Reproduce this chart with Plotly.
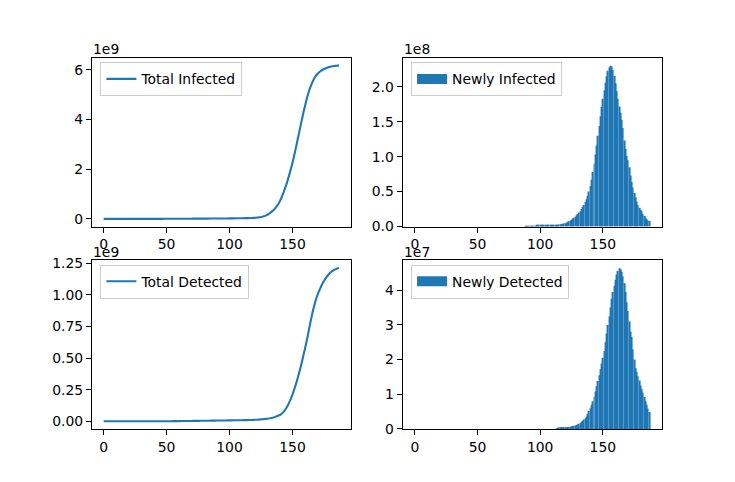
import plotly.graph_objects as go

# ---------------- data (values in millions of people) ----------------
days = list(range(188))

total_infected_m = [
    0.05, 0.05, 0.06, 0.06, 0.07, 0.07, 0.08, 0.08, 0.09, 0.1,
    0.11, 0.12, 0.13, 0.14, 0.15, 0.16, 0.17, 0.19, 0.2, 0.22,
    0.24, 0.26, 0.28, 0.3, 0.33, 0.36, 0.39, 0.42, 0.45, 0.49,
    0.53, 0.57, 0.62, 0.67, 0.72, 0.78, 0.84, 0.91, 0.98, 1.06,
    1.14, 1.23, 1.33, 1.43, 1.54, 1.66, 1.79, 1.93, 2.08, 2.24,
    2.41, 2.59, 2.79, 3.0, 3.23, 3.47, 3.73, 4.0, 4.3, 4.6,
    4.9, 5.2, 5.5, 5.8, 6.1, 6.4, 6.7, 7.0, 7.3, 7.6,
    7.9, 8.2, 8.5, 8.8, 9.1, 9.4, 9.7, 10.0, 10.3, 10.6,
    10.9, 11.2, 11.5, 11.8, 12.1, 12.4, 12.7, 13.0, 13.4, 13.8,
    14.2, 14.6, 15.0, 15.5, 16.0, 16.5, 17.0, 17.5, 18.0, 18.6,
    19.2, 19.8, 20.4, 21.1, 21.8, 22.5, 23.2, 24.0, 24.8, 25.6,
    26.5, 27.5, 28.5, 29.5, 30.5, 31.7, 33, 34.5, 36.5, 38.5,
    41, 46, 52, 59, 67, 77, 89, 103, 120, 140,
    165, 195, 230, 270, 310, 360, 410, 470, 540, 620,
    710, 820, 950, 1080, 1220, 1360, 1520, 1690, 1870, 2060,
    2260, 2470, 2690, 2920, 3160, 3400, 3640, 3880, 4110, 4340,
    4550, 4760, 4950, 5120, 5270, 5400, 5520, 5620, 5710, 5780,
    5840, 5890, 5930, 5970, 6000, 6030, 6050, 6070, 6090, 6105,
    6120, 6130, 6140, 6150, 6155, 6160, 6165, 6170,
]

newly_infected_m = [
    0, 0, 0, 0, 0, 0, 0, 0, 0, 0,
    0, 0, 0, 0, 0, 0, 0, 0, 0, 0,
    0, 0, 0, 0, 0, 0, 0, 0, 0, 0,
    0, 0, 0, 0, 0, 0, 0, 0, 0, 0,
    0, 0, 0, 0, 0, 0, 0, 0, 0, 0,
    0, 0, 0, 0, 0, 0, 0, 0, 0, 0,
    0, 0, 0, 0, 0, 0, 0, 0, 0, 0,
    0, 0, 0, 0, 0, 0, 0, 0, 0, 0,
    0, 0, 0, 0, 0, 0, 0, 0, 0.75, 0.8,
    0.82, 0.85, 0.88, 0.9, 0.93, 0.96, 1.0, 1.03, 1.06, 1.1,
    1.2, 1.25, 1.3, 1.35, 1.4, 1.45, 1.5, 1.6, 1.65, 1.7,
    1.8, 1.9, 2.0, 2.3, 2.6, 3.0, 3.3, 3.6, 4.0, 4.4,
    4.8, 5.5, 6.5, 7.5, 8.5, 9.5, 11, 12.5, 14, 16,
    18, 20, 22, 25, 28, 31, 35, 39, 44, 50,
    58, 67, 78, 90, 103, 116, 130, 144, 158, 171,
    183, 195, 206, 215, 223, 228, 230, 229, 224, 216,
    205, 194, 183, 172, 163, 153, 141, 123, 111, 101,
    95, 85, 73, 64, 56, 48, 42, 36, 31, 27,
    24, 22, 18, 15, 12.5, 10.5, 9, 8,
]

total_detected_m = [
    0.01, 0.01, 0.01, 0.01, 0.01, 0.02, 0.02, 0.02, 0.02, 0.02,
    0.03, 0.03, 0.03, 0.04, 0.04, 0.04, 0.05, 0.05, 0.06, 0.06,
    0.07, 0.07, 0.08, 0.09, 0.1, 0.11, 0.12, 0.13, 0.14, 0.15,
    0.16, 0.18, 0.19, 0.21, 0.23, 0.25, 0.27, 0.29, 0.31, 0.34,
    0.37, 0.4, 0.43, 0.47, 0.5, 0.54, 0.59, 0.64, 0.69, 0.74,
    0.8, 0.86, 0.93, 1.0, 1.08, 1.16, 1.25, 1.35, 1.45, 1.56,
    1.67, 1.78, 1.9, 2.02, 2.14, 2.27, 2.4, 2.53, 2.67, 2.81,
    2.95, 3.1, 3.25, 3.4, 3.55, 3.7, 3.85, 4.0, 4.15, 4.3,
    4.45, 4.6, 4.75, 4.9, 5.05, 5.2, 5.35, 5.5, 5.65, 5.8,
    5.95, 6.1, 6.25, 6.4, 6.55, 6.7, 6.85, 7.0, 7.15, 7.3,
    7.45, 7.6, 7.75, 7.9, 8.05, 8.2, 8.35, 8.5, 8.65, 8.8,
    8.95, 9.1, 9.25, 9.45, 9.65, 9.9, 10.2, 10.5, 10.9, 11.3,
    11.8, 12.3, 12.9, 13.6, 14.4, 15.2, 16.1, 17.1, 18.2, 19.4,
    20.8, 22.4, 24.2, 26.2, 28.5, 31, 34, 37.5, 41.5, 45.5,
    50, 57, 65, 76, 88, 103, 120, 140, 162, 186,
    212, 240, 270, 302, 336, 372, 410, 450, 492, 534,
    576, 622, 670, 720, 770, 818, 863, 905, 943, 975,
    1003, 1028, 1050, 1073, 1093, 1111, 1127, 1141, 1154, 1166,
    1176, 1185, 1192, 1198, 1203, 1207, 1211, 1214,
]

newly_detected_m = [
    0, 0, 0, 0, 0, 0, 0, 0, 0, 0,
    0, 0, 0, 0, 0, 0, 0, 0, 0, 0,
    0, 0, 0, 0, 0, 0, 0, 0, 0, 0,
    0, 0, 0, 0, 0, 0, 0, 0, 0, 0,
    0, 0, 0, 0, 0, 0, 0, 0, 0, 0,
    0, 0, 0, 0, 0, 0, 0, 0, 0, 0,
    0, 0, 0, 0, 0, 0, 0, 0, 0, 0,
    0, 0, 0, 0, 0, 0, 0, 0, 0, 0,
    0, 0, 0, 0, 0, 0, 0, 0, 0, 0,
    0, 0, 0, 0, 0, 0, 0, 0, 0, 0,
    0, 0, 0, 0, 0, 0, 0, 0, 0, 0,
    0, 0, 0, 0.18, 0.2, 0.25, 0.28, 0.32, 0.37, 0.42,
    0.46, 0.5, 0.55, 0.6, 0.65, 0.72, 0.8, 0.9, 1.0, 1.15,
    1.3, 1.5, 1.7, 2.0, 2.3, 2.7, 3.1, 3.5, 4.3, 5.2,
    6.0, 7.0, 8.0, 9.3, 10.8, 12.3, 13.8, 15.5, 17.2, 18.9,
    20.5, 22.5, 25.0, 27.5, 30.0, 32.5, 35.0, 37.5, 39.5, 41.3,
    43.0, 44.5, 45.5, 46.3, 46.0, 45.3, 44.0, 42.0, 39.5, 36.5,
    34.0, 31.0, 28.0, 26.5, 23.0, 20.0, 17.5, 16.5, 15.2, 14.0,
    12.5, 11.5, 10.5, 9.2, 8.0, 7.0, 5.9, 4.9,
]

x_tick_labels = ["0", "50", "100", "150"]
ti_tick_labels = ["0", "2", "4", "6"]                              # x 1e9
ni_tick_labels = ["0.0", "0.5", "1.0", "1.5", "2.0"]              # x 1e8
td_tick_labels = ["0.00", "0.25", "0.50", "0.75", "1.00", "1.25"]  # x 1e9
nd_tick_labels = ["0", "1", "2", "3", "4"]                        # x 1e7

for arr in (total_infected_m, newly_infected_m, total_detected_m, newly_detected_m):
    assert len(arr) == len(days), len(arr)

# ---------------- style ----------------
FONT = "DejaVu Sans"
FS = 13.9
BLUE = "#1f77b4"
W, H = 735, 482

L, R, B, T = 0.125, 0.9, 0.11, 0.88
aw = (R - L) / 2.2
ah = (T - B) / 2.2
col_x = [[L, L + aw], [R - aw, R]]
row_y = [[T - ah, T], [B, B + ah]]

panels = [
    dict(kind="line", vals=total_infected_m, name="Total Infected", mult=1e9,
         ticks=ti_tick_labels, exp="1e9", r=0, c=0),
    dict(kind="bar", vals=newly_infected_m, name="Newly Infected", mult=1e8,
         ticks=ni_tick_labels, exp="1e8", r=0, c=1),
    dict(kind="line", vals=total_detected_m, name="Total Detected", mult=1e9,
         ticks=td_tick_labels, exp="1e9", r=1, c=0),
    dict(kind="bar", vals=newly_detected_m, name="Newly Detected", mult=1e7,
         ticks=nd_tick_labels, exp="1e7", r=1, c=1),
]

fig = go.Figure()
annotations = []
layout_axes = {}
legends = {}

for i, p in enumerate(panels, start=1):
    sfx = "" if i == 1 else str(i)
    xa, ya = "x" + sfx, "y" + sfx
    lg = "legend" + sfx
    yv = [v * 1e6 for v in p["vals"]]
    dom_x = col_x[p["c"]]
    dom_y = row_y[p["r"]]

    if p["kind"] == "line":
        fig.add_trace(go.Scatter(x=days, y=yv, mode="lines", name=p["name"],
                                 line=dict(color=BLUE, width=2.1, simplify=False),
                                 xaxis=xa, yaxis=ya, legend=lg))
        x0, x1 = min(days), max(days)
        xs = x1 - x0
        xr = [x0 - 0.05 * xs, x1 + 0.05 * xs]
        y0, y1 = min(yv), max(yv)
        ys = y1 - y0
        yr = [y0 - 0.05 * ys, y1 + 0.05 * ys]
    else:
        fig.add_trace(go.Bar(x=days, y=yv, width=0.8, name=p["name"],
                             marker=dict(color=BLUE, line=dict(width=0)),
                             showlegend=False, xaxis=xa, yaxis=ya))
        # legend entry with a rectangle-like handle, like the bar patch
        fig.add_trace(go.Scatter(x=[None], y=[None], mode="lines", name=p["name"],
                                 line=dict(color=BLUE, width=10),
                                 xaxis=xa, yaxis=ya, legend=lg))
        x0, x1 = min(days) - 0.4, max(days) + 0.4
        xs = x1 - x0
        xr = [x0 - 0.05 * xs, x1 + 0.05 * xs]
        yr = [0, max(yv) * 1.05]

    axis_common = dict(showline=True, mirror=True, linecolor="black", linewidth=1,
                       ticks="outside", ticklen=5, tickwidth=1, tickcolor="black",
                       showgrid=False, zeroline=False, automargin=False,
                       tickfont=dict(family=FONT, size=FS, color="black"))
    layout_axes["xaxis" + sfx] = dict(domain=dom_x, anchor=ya, range=xr,
                                      tickvals=[float(t) for t in x_tick_labels],
                                      ticktext=x_tick_labels, **axis_common)
    layout_axes["yaxis" + sfx] = dict(domain=dom_y, anchor=xa, range=yr,
                                      tickvals=[float(t) * p["mult"] for t in p["ticks"]],
                                      ticktext=p["ticks"], **axis_common)

    legends[lg] = dict(x=dom_x[0] + 8.5 / W, y=dom_y[1] - 4.5 / H,
                       xanchor="left", yanchor="top",
                       bgcolor="rgba(255,255,255,0.8)", bordercolor="#cccccc",
                       borderwidth=1, font=dict(family=FONT, size=FS, color="black"))

    annotations.append(dict(text=p["exp"], xref="paper", yref="paper",
                            x=dom_x[0], y=dom_y[1], xanchor="left", yanchor="bottom",
                            showarrow=False, yshift=-1.5, xshift=-1,
                            font=dict(family=FONT, size=FS, color="black")))

fig.update_layout(
    width=W, height=H, autosize=False,
    margin=dict(l=0, r=0, t=0, b=0),
    paper_bgcolor="white", plot_bgcolor="white",
    font=dict(family=FONT, size=FS, color="black"),
    annotations=annotations,
    bargap=0.2,
    hovermode=False,
    **layout_axes, **legends,
)

fig.write_html("out.html",
               config={"displayModeBar": False, "staticPlot": False},
               post_script="document.body.style.margin='0px';"
                           "document.body.style.overflow='hidden';")
